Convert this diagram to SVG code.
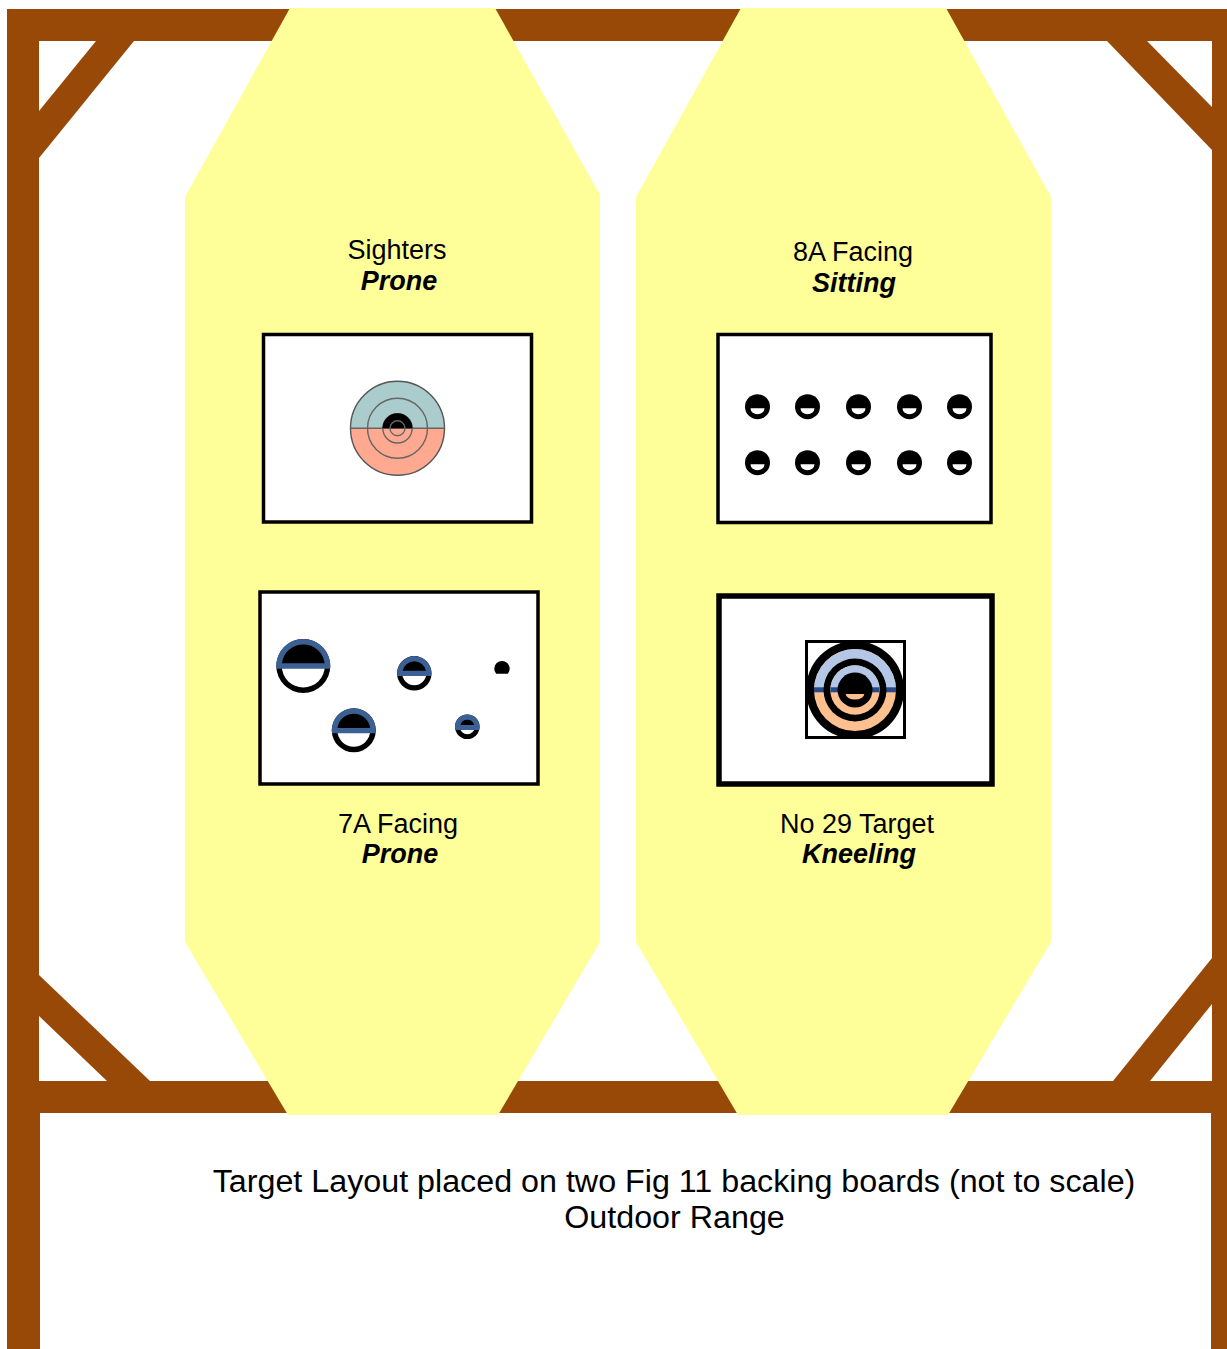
<svg xmlns="http://www.w3.org/2000/svg" width="1227" height="1349" viewBox="0 0 1227 1349">
<style>
text{font-family:"Liberation Sans",Arial,sans-serif;font-size:27px;fill:#000;text-anchor:middle}
.b{font-weight:bold;font-style:italic}
.big{font-size:32.250px}
.frame{fill:#984807}
.board{fill:#FFFF99}
.box{fill:#fff;stroke:#000;stroke-width:3.500}
.thick{stroke-width:5.500}
.blue{fill:#3B6093}
.lb{fill:#B4C7E7}
.or{fill:#FDC08E}
.band{fill:#264A88}
</style>
<defs>
<g id="dot"><circle r="12.500" fill="#000"/><path d="M-7 1.600H7A7 6 0 0 1-7 1.600Z" fill="#fff"/></g>
</defs>
<g id="frame" class="frame">
<rect x="7" y="9" width="1220" height="32"/>
<rect x="7" y="9" width="32" height="1104"/>
<rect x="7" y="1081" width="1220" height="32"/>
<rect x="7" y="1113" width="33" height="236"/>
<rect x="1212" y="9" width="15" height="1104"/>
<rect x="1211" y="1113" width="16" height="236"/>
<polygon points="96,41 134,41 39,158 39,111"/>
<polygon points="1107,41 1147,41 1212,107 1212,150"/>
<polygon points="39,975 150,1081 107,1081 39,1016"/>
<polygon points="1212,958 1212,1004 1150,1081 1113,1081"/>
</g>
<g id="board-left"><polygon class="board" points="290,8 495,8 600,195 600,942 498,1115 288,1115 185,942 185,197"/></g>
<g id="board-right"><polygon class="board" points="741,8 946,8 1051,197 1051,942 948,1115 738,1115 636,942 636,197"/></g>
<g id="sighters">
<text x="397" y="259">Sighters</text><text class="b" x="399" y="290">Prone</text>
<rect class="box" x="263.500" y="334.500" width="268" height="187.500"/>
<circle cx="397.500" cy="428.300" r="47" fill="#FFAA90"/>
<path d="M350.500 428.300A47 47 0 0 1 444.500 428.300Z" fill="#AACCCC"/>
<g fill="none" stroke="#666" stroke-width="1.400">
<circle cx="397.500" cy="428.300" r="47" stroke="#555"/>
<circle cx="397.500" cy="428.300" r="30"/>
<circle cx="397.500" cy="428.300" r="14.700"/>
<path d="M350.500 428.300H444.500"/>
</g>
<path d="M382.500 428.300A15 15 0 0 1 412.500 428.300Z" fill="#000"/>
<circle cx="397.500" cy="428.300" r="7.500" fill="none" stroke="#666" stroke-width="1.400"/>
</g>
<g id="facing-8a">
<text x="853" y="261">8A Facing</text><text class="b" x="854" y="292">Sitting</text>
<rect class="box" x="718" y="334.500" width="273" height="188"/>
<use href="#dot" x="757.500" y="406.700"/><use href="#dot" x="807.500" y="406.700"/><use href="#dot" x="858.500" y="406.700"/><use href="#dot" x="909.500" y="406.700"/><use href="#dot" x="959.500" y="406.700"/>
<use href="#dot" x="757.500" y="462.700"/><use href="#dot" x="807.500" y="462.700"/><use href="#dot" x="858.500" y="462.700"/><use href="#dot" x="909.500" y="462.700"/><use href="#dot" x="959.500" y="462.700"/>
</g>
<g id="facing-7a">
<rect class="box" x="260" y="592" width="278" height="192"/>
<circle cx="303.300" cy="666" r="27" fill="#000"/><circle cx="303.300" cy="666" r="21.500" fill="#fff"/>
<path class="blue" d="M276.440 668.700A27 27 0 1 1 330.160 668.700Z"/>
<path d="M281.970 663.300A21.500 21.500 0 0 1 324.630 663.300Z" fill="#000"/>
<circle cx="414.300" cy="673.300" r="17.200" fill="#000"/><circle cx="414.300" cy="673.300" r="12" fill="#fff"/>
<path class="blue" d="M397.310 676A17.200 17.200 0 1 1 431.290 676Z"/>
<path d="M402.590 670.700A12 12 0 0 1 426.010 670.700Z" fill="#000"/>
<circle cx="353.800" cy="730.300" r="22" fill="#000"/><circle cx="353.800" cy="730.300" r="16.500" fill="#fff"/>
<path class="blue" d="M332 733.300A22 22 0 1 1 375.600 733.300Z"/>
<path d="M337.460 728A16.500 16.500 0 0 1 370.140 728Z" fill="#000"/>
<circle cx="467.300" cy="726.700" r="12.300" fill="#000"/><circle cx="467.300" cy="726.700" r="7.500" fill="#fff"/>
<path class="blue" d="M455.450 730A12.300 12.300 0 1 1 479.150 730Z"/>
<path d="M460.510 725A7 7 0 0 1 474.090 725Z" fill="#000"/>
<path d="M496.140 673.700A7.700 7.700 0 1 1 507.860 673.700Z" fill="#000"/>
<text x="398" y="833">7A Facing</text><text class="b" x="400" y="863">Prone</text>
</g>
<g id="no29">
<rect class="box thick" x="719" y="596" width="273" height="188"/>
<rect x="806.500" y="641.500" width="98" height="96" fill="#fff" stroke="#000" stroke-width="3"/>
<circle cx="855" cy="690" r="49" fill="#000"/>
<circle class="or" cx="855" cy="690" r="41"/>
<path class="lb" d="M814 690A41 41 0 0 1 896 690Z"/>
<rect class="band" x="814" y="687.300" width="82" height="5"/>
<circle cx="855" cy="690" r="31.500" fill="#000"/>
<circle class="or" cx="855" cy="690" r="24.700"/>
<path class="lb" d="M830.300 690A24.700 24.700 0 0 1 879.700 690Z"/>
<rect class="band" x="830.500" y="687.300" width="49" height="5"/>
<circle cx="855" cy="690" r="17.500" fill="#000"/>
<path class="or" d="M845.700 694H864.300A9.300 5.500 0 0 1 845.700 694Z"/>
<text x="857" y="833">No 29 Target</text><text class="b" x="859" y="863">Kneeling</text>
</g>
<g id="caption">
<text class="big" x="674" y="1192">Target Layout placed on two Fig 11 backing boards (not to scale)</text>
<text class="big" x="674.500" y="1228">Outdoor Range</text>
</g>
</svg>
